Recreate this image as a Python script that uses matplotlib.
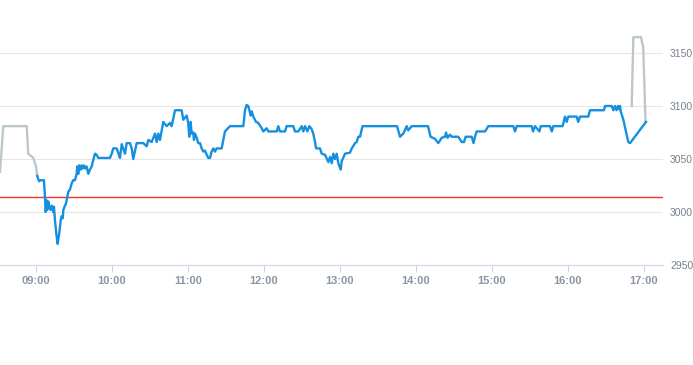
import matplotlib
matplotlib.use("Agg")
from matplotlib import pyplot as plt

plt.rcParams['font.family'] = ['Liberation Sans', 'DejaVu Sans']

# minutes after 09:00 and price
main_min = [1.0, 2.4, 3.9, 6.3, 7.1, 7.7, 8.4, 8.9, 9.7, 10.5, 11.6, 12.4, 13.7, 14.2, 15.0,
            16.3, 17.1, 18.4, 19.5, 20.3, 21.1, 21.6, 22.9, 23.7, 24.7, 25.5, 26.8, 28.2, 29.4,
            30.8, 32.1, 32.6, 33.4, 34.2, 35.3, 36.1, 36.9, 37.9, 38.9, 40.0, 41.3, 42.6, 44.0,
            45.2, 46.6, 47.9, 49.2, 58.4, 59.8, 61.0, 63.7, 66.3, 67.7, 70.3, 71.6, 74.2, 75.6,
            76.8, 79.5, 84.7, 87.4, 88.7, 91.3, 94.0, 95.3, 96.6, 97.9, 100.5, 103.2, 105.8,
            107.1, 108.4, 109.8, 115.0, 116.3, 119.0, 120.2, 121.0, 122.1, 122.9, 124.2, 124.7,
            125.5, 126.9, 128.1, 129.5, 130.8, 132.1, 133.4, 134.8, 136.0, 137.4, 138.7, 140.0,
            141.3, 142.6, 146.6, 149.2, 153.2, 163.7, 165.0, 166.3, 167.6, 169.5, 170.3, 171.6,
            173.7, 175.5, 178.2, 179.5, 182.1, 183.4, 190.0, 191.3, 192.6, 196.6, 197.9, 203.1,
            204.5, 207.1, 209.8, 211.0, 212.4, 214.2, 215.8, 217.7, 218.9, 220.3, 221.1, 224.2,
            225.6, 228.2, 230.8, 232.2, 233.5, 234.7, 236.1, 237.4, 238.7, 240.6, 241.4, 244.0,
            247.9, 249.3, 251.9, 253.2, 254.5, 255.8, 257.8, 285.0, 287.4, 290.0, 292.7, 293.9,
            296.6, 309.5, 311.5, 315.0, 317.6, 320.3, 322.9, 323.7, 324.9, 326.8, 328.2, 333.4,
            336.1, 337.9, 339.2, 344.0, 345.4, 346.6, 347.9, 354.5, 357.1, 376.8, 378.2, 379.5,
            391.3, 392.4, 394.0, 397.4, 398.5, 405.8, 407.2, 408.4, 415.8, 417.6, 419.0, 420.2,
            426.8, 428.1, 429.5, 436.0, 437.4, 448.4, 449.2, 454.5, 455.8, 457.1, 458.3, 459.5,
            460.3, 461.1, 461.6, 463.7, 467.6, 469.0, 481.6]
main_px = [3034, 3029, 3030, 3030, 3014, 3000, 3011, 3002, 3010, 3005, 3002, 3006, 3000, 3005, 2992,
           2977, 2970, 2980, 2992, 2996, 2994, 3002, 3006, 3008, 3014, 3019, 3021, 3027, 3030,
           3030, 3036, 3043, 3036, 3044, 3040, 3044, 3041, 3044, 3041, 3043, 3036, 3040, 3043,
           3049, 3055, 3054, 3051, 3051, 3055, 3060, 3060, 3051, 3064, 3055, 3065, 3065, 3060,
           3050, 3065, 3065, 3062, 3068, 3066, 3074, 3066, 3074, 3068, 3085, 3081, 3084,
           3081, 3088, 3096, 3096, 3087, 3091, 3084, 3071, 3085, 3074, 3075, 3068,
           3074, 3070, 3065, 3065, 3060, 3057, 3058, 3054, 3051, 3051, 3057, 3060,
           3057, 3060, 3060, 3076, 3081, 3081, 3096, 3101, 3100, 3091, 3095, 3090,
           3085, 3084, 3079, 3076, 3079, 3076, 3076, 3081, 3076, 3076, 3081, 3081,
           3076, 3076, 3081, 3076, 3081, 3076, 3081, 3078, 3074, 3066, 3060, 3060,
           3055, 3054, 3047, 3052, 3046, 3055, 3050, 3055, 3046, 3040, 3048, 3055,
           3056, 3060, 3065, 3066, 3071, 3071, 3081, 3081, 3071, 3074, 3081, 3077,
           3081, 3081, 3071, 3069, 3065, 3070, 3071, 3075, 3070, 3073, 3071, 3071,
           3066, 3066, 3071, 3071, 3065, 3071, 3076, 3076, 3081, 3081, 3076, 3081,
           3081, 3076, 3081, 3076, 3081, 3081, 3076, 3081, 3081, 3090, 3085, 3090,
           3090, 3085, 3090, 3090, 3096, 3096, 3100, 3100, 3096, 3100, 3096, 3100,
           3097, 3100, 3095, 3087, 3066, 3065, 3085]

pre_min = [-28.4, -25.8, -7.3, -6.1, -2.1, 0.0, 1.0]
pre_px = [3038, 3081, 3081, 3055, 3051, 3043, 3034]

post_min = [470.3, 471.6, 477.6, 479.4, 481.2]
post_px = [3100, 3165, 3165, 3155, 3085]

ref_price = 3014
hours = ["09:00", "10:00", "11:00", "12:00", "13:00", "14:00", "15:00", "16:00", "17:00"]
y_ticks = [2950, 3000, 3050, 3100, 3150]

fig = plt.figure(figsize=(6.93, 3.65), dpi=100)
ax = fig.add_axes([0, 100/365, 663/693, 265/365])

ax.plot(pre_min, pre_px, color='#bcc7cd', lw=1.7, zorder=3)
ax.plot(post_min, post_px, color='#bcc7cd', lw=1.7, zorder=3)
ax.plot(main_min, main_px, color='#1590e0', lw=1.7, zorder=4)
ax.axhline(ref_price, color='#e8352c', lw=1.0, zorder=2)

ax.set_xlim(-28.4, 495)
ax.set_ylim(2950, 3200)
ax.set_xticks([i*60 for i in range(len(hours))])
ax.set_xticklabels(hours)
ax.set_yticks(y_ticks)

ax.grid(axis='y', color='#e6e6e6', lw=0.8)
ax.set_axisbelow(True)
for s in ['top', 'left', 'right']:
    ax.spines[s].set_visible(False)
ax.spines['bottom'].set_color('#ccd6eb')
ax.spines['bottom'].set_linewidth(0.8)

ax.yaxis.tick_right()
ax.tick_params(axis='y', length=0, pad=5, labelsize=7.5, labelcolor='#77808a')
ax.tick_params(axis='x', length=5, width=0.8, color='#ccd6eb', pad=3,
               labelsize=8, labelcolor='#8a96a3')
for lab in ax.get_xticklabels():
    lab.set_fontweight('bold')

fig.savefig('out.png', dpi=100)
